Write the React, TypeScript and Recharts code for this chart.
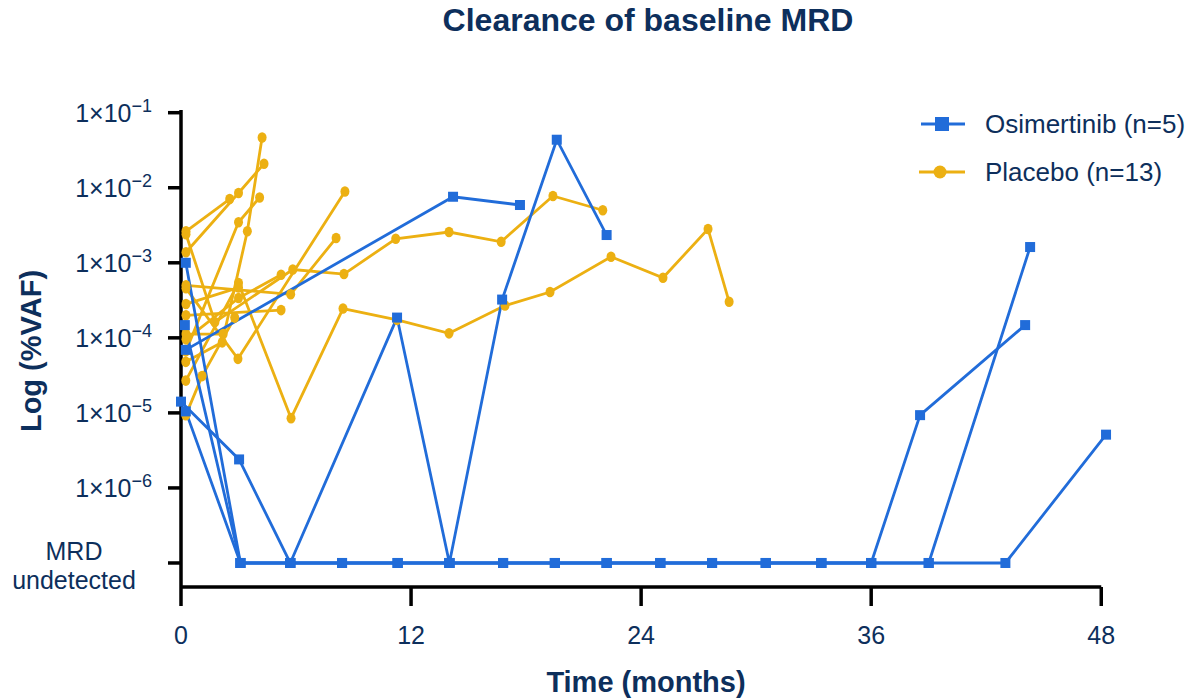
import React from 'react';
import { LineChart, Line, XAxis, YAxis, ReferenceLine } from 'recharts';

// ---- constants / data ----
const MRD = -7; // "MRD undetected" plotted at this log10 level
const Y_MIN = -7.32;
const Y_MAX = -0.964;
const X_MAX = 48.3;
const xTicks = [0, 12, 24, 36, 48];
const yTicks = [-7, -6, -5, -4, -3, -2, -1];
const yTickExponents: Record<number, string> = { [-1]: '−1', [-2]: '−2', [-3]: '−3', [-4]: '−4', [-5]: '−5', [-6]: '−6' };
const mrdLabel = ['MRD', 'undetected'];

const TITLE = 'Clearance of baseline MRD';
const X_LABEL = 'Time (months)';
const Y_LABEL = 'Log (%VAF)';
const OSI_NAME = 'Osimertinib (n=5)';
const PLA_NAME = 'Placebo (n=13)';

// Osimertinib patients: [month, log10(%VAF)]
const osi1 = [[0.25, -4.16], [14.19, -2.12], [17.68, -2.23]];
const osi2 = [[0, -4.85], [3.03, -5.62], [5.7, MRD], [11.27, -3.73], [14.0, MRD], [16.75, -3.49], [19.6, -1.36], [22.2, -2.63]];
const osi3 = [[0.25, -3.0], [3.1, MRD], [5.7, MRD], [8.4, MRD], [11.3, MRD], [14.0, MRD], [16.8, MRD], [19.5, MRD], [22.2, MRD], [25.0, MRD], [27.7, MRD], [30.5, MRD], [33.4, MRD], [36.0, MRD], [38.55, -5.03], [44.03, -3.83]];
const osi4 = [[0.2, -3.83], [3.1, MRD], [5.7, MRD], [8.4, MRD], [11.3, MRD], [14.0, MRD], [16.8, MRD], [19.5, MRD], [22.2, MRD], [25.0, MRD], [27.7, MRD], [30.5, MRD], [33.4, MRD], [36.0, MRD], [39.0, MRD], [44.29, -2.79]];
const osi5 = [[0.25, -4.98], [3.1, MRD], [5.7, MRD], [8.4, MRD], [11.3, MRD], [14.0, MRD], [16.8, MRD], [19.5, MRD], [22.2, MRD], [25.0, MRD], [27.7, MRD], [30.5, MRD], [33.4, MRD], [36.0, MRD], [39.0, MRD], [43.0, MRD], [48.25, -5.29]];

// Placebo patients: [month, log10(%VAF)]
const pla1 = [[0.25, -5.03], [1.1, -4.51], [2.8, -3.73]];
const pla2 = [[0.25, -4.57], [3.0, -3.27], [5.74, -5.07], [8.45, -3.61], [11.27, -3.76], [13.98, -3.94], [16.9, -3.57], [19.25, -3.39], [22.43, -2.92], [25.14, -3.2], [27.49, -2.55], [28.59, -3.52]];
const pla3 = [[0.26, -3.34], [2.97, -4.28], [8.55, -2.05]];
const pla4 = [[0.26, -2.58], [2.54, -2.15]];
const pla5 = [[0.26, -2.86], [3.0, -2.07], [4.33, -1.68]];
const pla6 = [[0.25, -4.32], [2.15, -4.06], [3.46, -2.58], [4.23, -1.33]];
const pla7 = [[0.25, -4.18], [3.0, -2.46], [4.1, -2.13]];
const pla8 = [[0.26, -3.7], [5.22, -3.63]];
const pla9 = [[0.26, -3.3], [5.72, -3.42], [8.09, -2.67]];
const pla10 = [[0.26, -2.62], [1.77, -3.79], [5.83, -3.09], [8.5, -3.15], [11.2, -2.68], [13.98, -2.59], [16.7, -2.72], [19.4, -2.11], [22.0, -2.3]];
const pla11 = [[0.26, -4.02], [3.0, -3.47], [5.22, -3.16]];
const pla12 = [[0.26, -3.55], [3.0, -3.33]];
const pla13 = [[0.26, -3.95], [2.2, -3.95]];

const osimertinibPatients = [osi1, osi2, osi3, osi4, osi5];
const placeboPatients = [pla1, pla2, pla3, pla4, pla5, pla6, pla7, pla8, pla9, pla10, pla11, pla12, pla13];

// ---- styles ----
const FONT = '"Liberation Sans", Arial, sans-serif';
const NAVY = '#0d2f5c';
const BLUE = '#216cd9';
const YELLOW = '#ecb012';

const toPts = (arr: number[][]) => arr.map(([x, y]) => ({ x, y }));

const SquareDot = (props: any) => {
  const { cx, cy, index } = props;
  if (cx == null || cy == null) return <g key={`sq-${index}`} />;
  return <rect key={`sq-${index}`} x={cx - 5} y={cy - 5} width={10} height={10} fill={BLUE} />;
};

const RoundDot = (props: any) => {
  const { cx, cy, index } = props;
  if (cx == null || cy == null) return <g key={`rd-${index}`} />;
  return <ellipse key={`rd-${index}`} cx={cx} cy={cy} rx={4.5} ry={5.3} fill={YELLOW} />;
};

const YTick = (props: any) => {
  const { x, y, payload } = props;
  const v = payload.value;
  if (v === MRD) {
    return (
      <g>
        <text x={74} y={y - 3} textAnchor="middle" fontSize={25} fill={NAVY} fontFamily={FONT}>{mrdLabel[0]}</text>
        <text x={74} y={y + 26} textAnchor="middle" fontSize={25} fill={NAVY} fontFamily={FONT}>{mrdLabel[1]}</text>
      </g>
    );
  }
  return (
    <text x={x} y={y + 9} textAnchor="end" fontSize={25} fill={NAVY} fontFamily={FONT}>
      <tspan>1×10</tspan>
      <tspan dy={-10} fontSize={18}>{yTickExponents[v]}</tspan>
    </text>
  );
};

export default function App() {
  return (
    <div style={{ position: 'absolute', left: 0, top: 0, width: 1189, height: 698, background: '#fff', fontFamily: FONT }}>
      <div style={{ position: 'absolute', left: 0, width: 1296, top: 2, textAlign: 'center', fontSize: 32, fontWeight: 'bold', color: NAVY, lineHeight: '36px' }}>{TITLE}</div>
      <div style={{ position: 'absolute', left: 446, width: 400, top: 664, textAlign: 'center', fontSize: 29, fontWeight: 'bold', color: NAVY, lineHeight: '36px' }}>{X_LABEL}</div>
      <div style={{ position: 'absolute', left: 31 - 100, top: 351 - 18, width: 200, textAlign: 'center', fontSize: 29, fontWeight: 'bold', color: NAVY, lineHeight: '36px', transform: 'rotate(-90deg)' }}>{Y_LABEL}</div>
      <div style={{ position: 'absolute', left: 918, top: 108, color: NAVY, fontSize: 26 }}>
        <div style={{ display: 'flex', alignItems: 'center', height: 32 }}>
          <svg width={50} height={20} style={{ marginRight: 17 }}>
            <line x1={3} y1={10} x2={47} y2={10} stroke={BLUE} strokeWidth={3} />
            <rect x={17} y={3} width={14} height={14} fill={BLUE} />
          </svg>
          <span>{OSI_NAME}</span>
        </div>
        <div style={{ display: 'flex', alignItems: 'center', height: 32, marginTop: 16 }}>
          <svg width={50} height={20} style={{ marginRight: 17 }}>
            <line x1={1} y1={10} x2={47} y2={10} stroke={YELLOW} strokeWidth={3} />
            <circle cx={22} cy={10} r={6.5} fill={YELLOW} />
          </svg>
          <span>{PLA_NAME}</span>
        </div>
      </div>
      <div style={{ position: 'absolute', left: 0, top: 0 }}>
        <LineChart width={1189} height={698} margin={{ top: 110, right: 82, bottom: 51, left: 81 }}>
          <XAxis
            type="number"
            dataKey="x"
            domain={[0, X_MAX]}
            ticks={xTicks}
            interval={0}
            height={60}
            axisLine={false}
            tickLine={{ stroke: '#000', strokeWidth: 3.5 }}
            tickSize={19}
            tickMargin={20}
            tick={{ fill: NAVY, fontSize: 25, fontFamily: FONT }}
          />
          <YAxis
            type="number"
            domain={[Y_MIN, Y_MAX]}
            allowDataOverflow
            ticks={yTicks}
            interval={0}
            width={100}
            axisLine={{ stroke: '#000', strokeWidth: 3.5 }}
            tickLine={{ stroke: '#000', strokeWidth: 3.5 }}
            tickSize={13}
            tickMargin={16}
            tick={<YTick />}
          />
          <ReferenceLine
            segment={[{ x: 0, y: Y_MIN }, { x: xTicks[xTicks.length - 1], y: Y_MIN }]}
            stroke="#000"
            strokeWidth={3.5}
            ifOverflow="visible"
          />
          {placeboPatients.map((p, i) => (
            <Line
              key={`pla-${i}`}
              data={toPts(p)}
              dataKey="y"
              type="linear"
              stroke={YELLOW}
              strokeWidth={2.8}
              dot={RoundDot}
              activeDot={false}
              isAnimationActive={false}
              legendType="none"
            />
          ))}
          {osimertinibPatients.map((p, i) => (
            <Line
              key={`osi-${i}`}
              data={toPts(p)}
              dataKey="y"
              type="linear"
              stroke={BLUE}
              strokeWidth={2.8}
              dot={SquareDot}
              activeDot={false}
              isAnimationActive={false}
              legendType="none"
            />
          ))}
        </LineChart>
      </div>
    </div>
  );
}
